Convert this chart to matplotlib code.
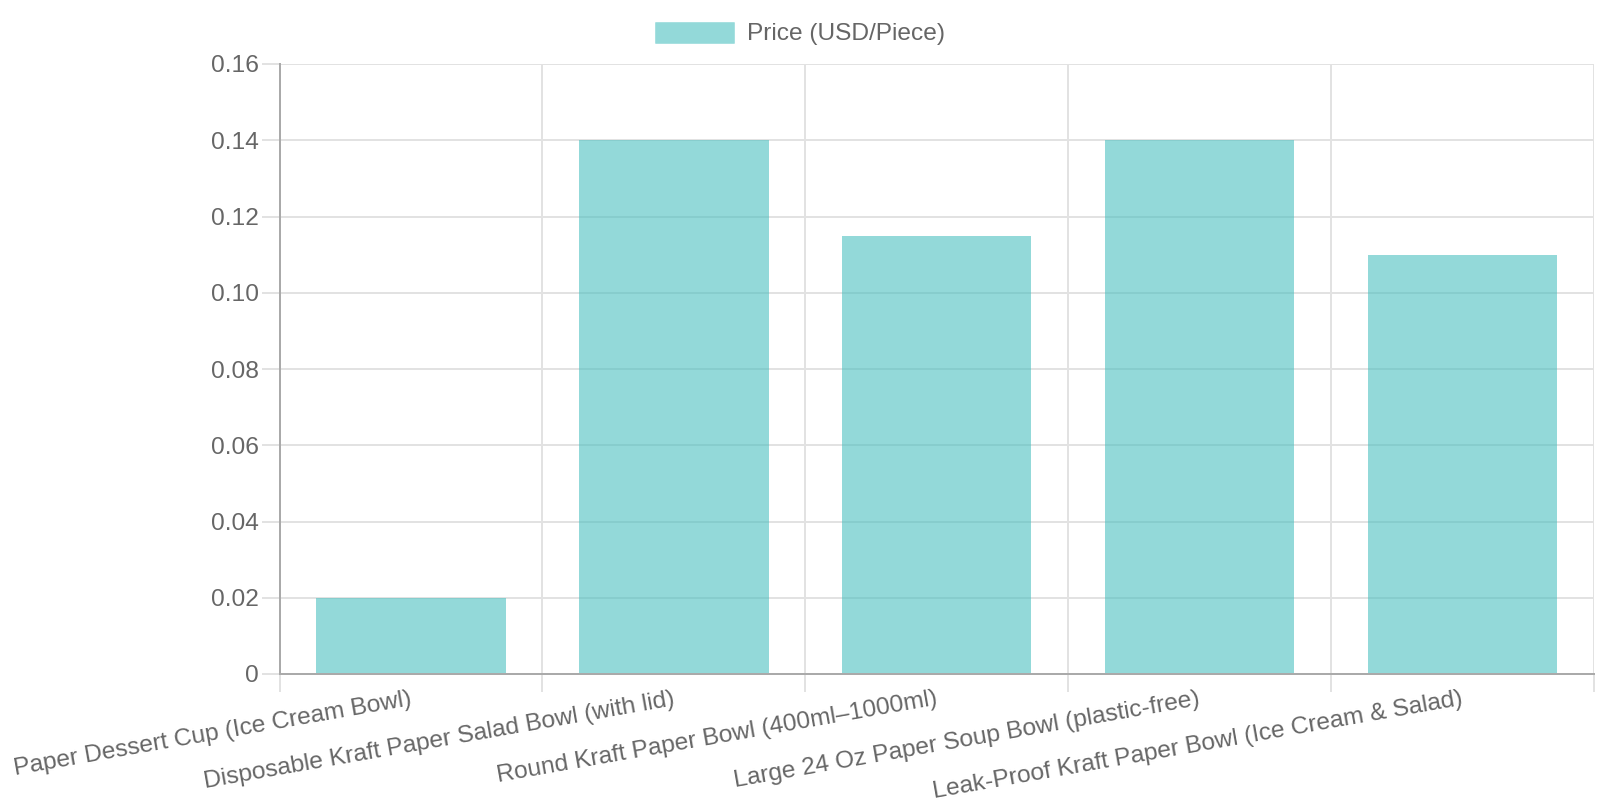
import numpy as np
import matplotlib
matplotlib.use("Agg")
import matplotlib.pyplot as plt
from matplotlib.patches import Patch

categories = [
    "Paper Dessert Cup (Ice Cream Bowl)",
    "Disposable Kraft Paper Salad Bowl (with lid)",
    "Round Kraft Paper Bowl (400ml\u20131000ml)",
    "Large 24 Oz Paper Soup Bowl (plastic-free)",
    "Leak-Proof Kraft Paper Bowl (Ice Cream & Salad)",
]
prices = [0.02, 0.14, 0.115, 0.14, 0.11]
series_label = "Price (USD/Piece)"
y_ticks = [0, 0.02, 0.04, 0.06, 0.08, 0.10, 0.12, 0.14, 0.16]
y_tick_labels = ["0", "0.02", "0.04", "0.06", "0.08", "0.10", "0.12", "0.14", "0.16"]

DPI = 100
px = 72 / DPI  # points per pixel

plt.rcParams["font.family"] = ["Liberation Sans", "DejaVu Sans"]
text_color = "#666666"
grid_color = "#e2e2e2"
axis_color = "#aaaaaa"
bar_face = (75 / 255, 192 / 255, 192 / 255, 0.6)
font_px = 24.5

fig = plt.figure(figsize=(16, 8), dpi=DPI)
ax = fig.add_axes([0.1747, 0.1575, 0.99625 - 0.1747, 0.92 - 0.1575])

x = np.arange(len(categories))
ax.bar(x, prices, width=0.72, color=bar_face, linewidth=0, zorder=2)

ax.set_xlim(-0.5, len(categories) - 0.5)
ax.set_ylim(0, 0.16)

# y axis
ax.set_yticks(y_ticks)
ax.set_yticklabels(y_tick_labels)
ax.tick_params(axis="y", which="major", length=18 * px, width=2 * px,
               color=grid_color, pad=3 * px, labelsize=font_px * px,
               labelcolor=text_color)

# x axis: labels at category centres, grid lines on category boundaries
ax.set_xticks(x)
ax.set_xticklabels(categories, rotation=10, ha="right", va="center",
                   rotation_mode="anchor")
ax.tick_params(axis="x", which="major", length=0, pad=25 * px,
               labelsize=font_px * px, labelcolor=text_color)
ax.set_xticks(np.arange(-0.5, len(categories), 1.0), minor=True)
ax.tick_params(axis="x", which="minor", length=18 * px, width=2 * px,
               color=grid_color)

ax.grid(axis="y", which="major", color=grid_color, linewidth=2 * px, zorder=0)
ax.grid(axis="x", which="minor", color=grid_color, linewidth=2 * px, zorder=0)
ax.grid(axis="x", which="major", visible=False)
ax.set_axisbelow(True)

for side in ("top", "right"):
    ax.spines[side].set_visible(False)
for side in ("left", "bottom"):
    ax.spines[side].set_color(axis_color)
    ax.spines[side].set_linewidth(2 * px)
    ax.spines[side].set_zorder(3)

handle = Patch(facecolor=bar_face, edgecolor=(75 / 255, 192 / 255, 192 / 255, 0.25),
               linewidth=1 * px, label=series_label)
leg = fig.legend(handles=[handle], loc="center", bbox_to_anchor=(0.5, 1 - 33.5 / 800),
                 frameon=False, fontsize=font_px * px, handlelength=79 / font_px,
                 handleheight=23 / font_px, handletextpad=13 / font_px,
                 borderpad=0, borderaxespad=0)
for t in leg.get_texts():
    t.set_color(text_color)

fig.savefig("out.png", dpi=DPI)
